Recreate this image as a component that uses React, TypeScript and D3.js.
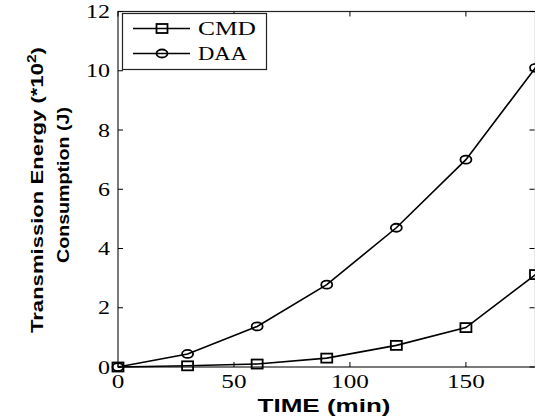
import * as d3 from 'd3';

const times = [0, 30, 60, 90, 120, 150, 180];
const cmd = [0, 0.04, 0.1, 0.3, 0.73, 1.33, 3.12];
const daa = [0, 0.44, 1.37, 2.78, 4.7, 7.0, 10.1];
const xTickVals = [0, 50, 100, 150];
const yTickVals = [0, 2, 4, 6, 8, 10, 12];
const legendLabels = ['CMD', 'DAA'];

const W = 535;
const H = 418;
const left = 118;
const right = 535.5;
const top = 11.5;
const bottom = 367;

const serif = "'Liberation Serif', 'Times New Roman', serif";
const sans = "'Liberation Sans', Arial, sans-serif";

function Square({ cx, cy }: { cx: number; cy: number }) {
  return <rect x={cx - 5.5} y={cy - 4.5} width={11} height={9} fill="none" stroke="#000" strokeWidth={1.8} />;
}

function Ring({ cx, cy }: { cx: number; cy: number }) {
  return <ellipse cx={cx} cy={cy} rx={5.5} ry={4} fill="none" stroke="#000" strokeWidth={1.8} />;
}

export default function App() {
  const x = d3.scaleLinear().domain([0, 180]).range([left, right]);
  const y = d3.scaleLinear().domain([0, 12]).range([bottom, top]);

  const line = d3
    .line<number>()
    .x((_, i) => x(times[i]))
    .y((d) => y(d));

  return (
    <svg
      width={W}
      height={H}
      style={{ position: 'absolute', left: 0, top: 0, background: '#fff' }}
    >
      <rect width={W} height={H} fill="#fff" />

      {/* frame */}
      <rect x={left} y={top} width={right - left} height={bottom - top} fill="none" stroke="#222" strokeWidth={1.2} />

      {/* x ticks */}
      {xTickVals.map((t) => (
        <g key={`xt-${t}`}>
          <line x1={x(t)} x2={x(t)} y1={bottom} y2={bottom - 5} stroke="#000" />
          <line x1={x(t)} x2={x(t)} y1={top} y2={top + 5} stroke="#000" />
          <text
            x={x(t)}
            y={388}
            fontFamily={serif}
            fontSize={18}
            textAnchor="middle"
            textLength={String(t).length * 12.6}
            lengthAdjust="spacingAndGlyphs"
          >
            {t}
          </text>
        </g>
      ))}

      {/* y ticks */}
      {yTickVals.map((t) => (
        <g key={`yt-${t}`}>
          <line x1={left} x2={left + 5} y1={y(t)} y2={y(t)} stroke="#000" />
          <line x1={right - 1} x2={right - 6} y1={y(t)} y2={y(t)} stroke="#000" />
          <text
            x={110}
            y={y(t) + 6.5}
            fontFamily={serif}
            fontSize={18}
            textAnchor="end"
            textLength={String(t).length * 12}
            lengthAdjust="spacingAndGlyphs"
          >
            {t}
          </text>
        </g>
      ))}

      {/* series */}
      <path d={line(daa) ?? ''} fill="none" stroke="#000" strokeWidth={1.6} />
      <path d={line(cmd) ?? ''} fill="none" stroke="#000" strokeWidth={1.6} />
      {daa.map((v, i) => (
        <Ring key={`d-${i}`} cx={x(times[i])} cy={y(v)} />
      ))}
      {cmd.map((v, i) => (
        <Square key={`c-${i}`} cx={x(times[i])} cy={y(v)} />
      ))}

      {/* legend */}
      <rect x={122.5} y={13.5} width={144} height={56} fill="#fff" stroke="#222" strokeWidth={1.2} />
      {legendLabels.map((lab, i) => {
        const ly = 28.5 + i * 25;
        return (
          <g key={lab}>
            <line x1={133} x2={190} y1={ly} y2={ly} stroke="#000" strokeWidth={1.6} />
            {i === 0 ? <Square cx={162} cy={ly} /> : <Ring cx={162} cy={ly} />}
            <text
              x={198}
              y={ly + 6.5}
              fontFamily={serif}
              fontSize={18}
              textLength={i === 0 ? 58 : 49}
              lengthAdjust="spacingAndGlyphs"
            >
              {lab}
            </text>
          </g>
        );
      })}

      {/* x label */}
      <text
        x={324}
        y={412}
        fontFamily={sans}
        fontWeight="bold"
        fontSize={19}
        textAnchor="middle"
        textLength={133}
        lengthAdjust="spacingAndGlyphs"
      >
        TIME (min)
      </text>

      {/* y label */}
      <text
        transform="translate(43,190) rotate(-90)"
        fontFamily={sans}
        fontWeight="bold"
        fontSize={17}
        textAnchor="middle"
        textLength={286}
        lengthAdjust="spacingAndGlyphs"
      >
        Transmission Energy  (*10
        <tspan dy={-7} fontSize={12}>2</tspan>
        <tspan dy={7}>)</tspan>
      </text>
      <text
        transform="translate(69,185) rotate(-90)"
        fontFamily={sans}
        fontWeight="bold"
        fontSize={17}
        textAnchor="middle"
        textLength={156}
        lengthAdjust="spacingAndGlyphs"
      >
        Consumption (J)
      </text>
    </svg>
  );
}
